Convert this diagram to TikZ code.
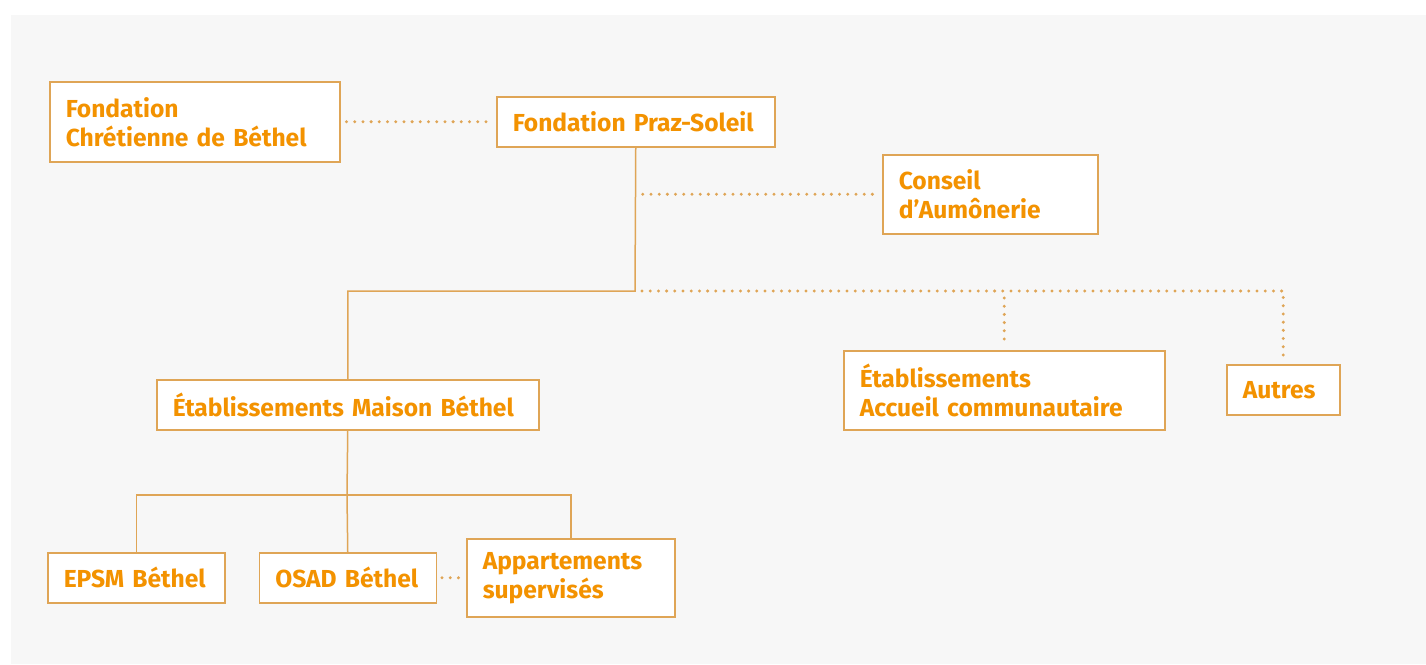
\documentclass[tikz,border=0pt]{standalone}
\usepackage{fontspec}
\setmainfont{Fira Sans}
\usetikzlibrary{calc}

\definecolor{txtorange}{HTML}{F39200}
\definecolor{linetan}{HTML}{DFA556}
\definecolor{bggray}{HTML}{F7F7F7}

\tikzset{
    box/.style={draw=linetan, line width=1.5pt, fill=white, anchor=north west,
        align=left, inner xsep=16pt, inner ysep=0pt,
        text=txtorange, font=\fontsize{24.6}{29}\selectfont\bfseries},
    link/.style={draw=linetan, line width=1.5pt},
    dotline/.style={draw=linetan, line width=3.3pt, line cap=round,
        dash pattern=on 0pt off 8.2pt}
}

\begin{document}
\begin{tikzpicture}[x=1pt,y=-1pt]
    \useasboundingbox[fill=white] (0,0) rectangle (1426,664);
    \fill[bggray] (11,15) rectangle (1426,664); % Background panel

    % Boxes
    \node[box, text width=258pt, minimum height=80pt] (fcb) at (49,81) {Fondation\\Chrétienne de Béthel};
    \node[box, text width=246pt, minimum height=50pt] (fps) at (496,96) {Fondation Praz-Soleil};
    \node[box, text width=183pt, minimum height=79pt] (conseil) at (882,154) {Conseil\\d’Aumônerie};
    \node[box, text width=350pt, minimum height=50pt] (emb) at (156,379) {Établissements Maison Béthel};
    \node[box, text width=289pt, minimum height=79pt] (eac) at (843,350) {Établissements\\Accueil communautaire};
    \node[box, text width=81pt, minimum height=50pt] (autres) at (1226,364) {Autres};
    \node[box, text width=145pt, minimum height=50pt] (epsm) at (47,552) {EPSM Béthel};
    \node[box, text width=145pt, minimum height=50pt] (osad) at (258.5,552) {OSAD Béthel};
    \node[box, text width=176pt, minimum height=78pt] (appart) at (466,538) {Appartements\\supervisés};

    \coordinate (j1) at (635,291); % Main junction
    \coordinate (j2) at (347,495); % Maison Béthel junction

    % Solid links
    \draw[link] (fps.south) -- (j1) -| (emb.north);
    \draw[link] (emb.south) -- (j2) -- (osad.north);
    \draw[link] (epsm.north) |- (appart.north |- j2) -- (appart.north);

    % Dotted links
    \draw[dotline] ([xshift=6pt]fcb.east) -- ([xshift=-6pt]fps.west);
    \draw[dotline] ([xshift=7pt]fps.south |- conseil.west) -- ([xshift=-5pt]conseil.west);
    \draw[dotline] ([xshift=7pt]j1) -- (j1 -| autres.north) -- ([yshift=8pt]autres.north);
    \draw[dotline] ([yshift=-7pt]j1 -| eac.north) -- ([yshift=8pt]eac.north);
    \draw[dotline] ([xshift=5pt]osad.east) -- ([xshift=-5pt]appart.west);
\end{tikzpicture}
\end{document}
